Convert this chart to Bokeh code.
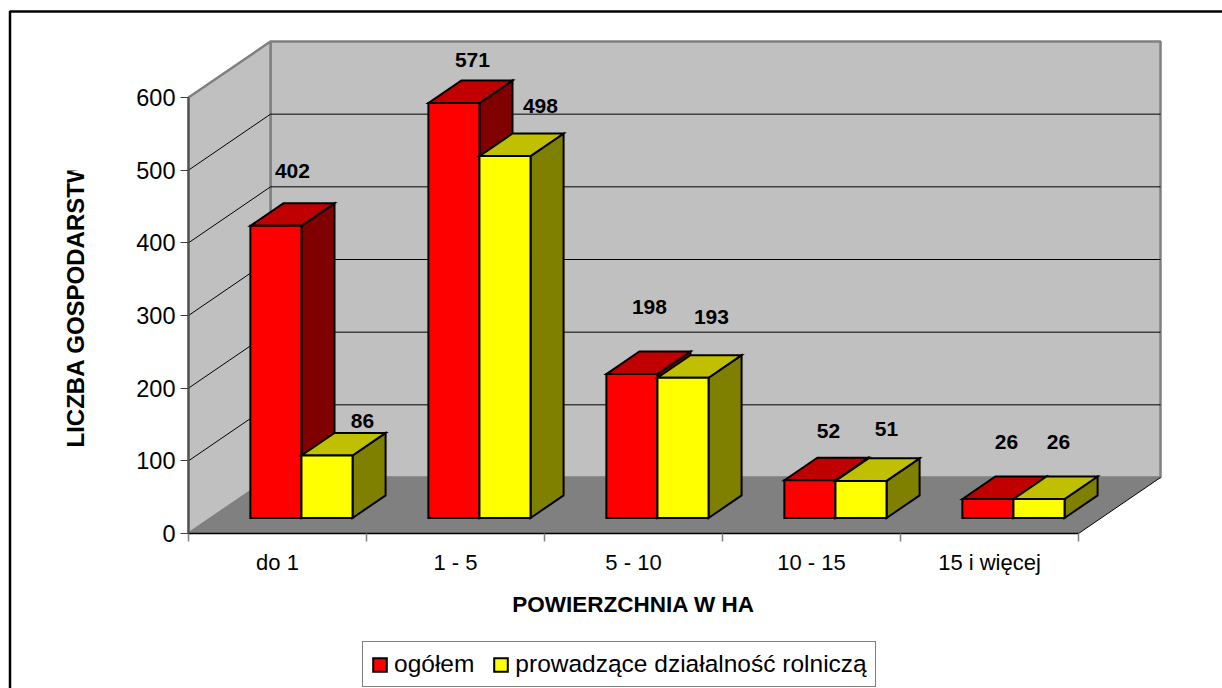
from math import pi
from bokeh.plotting import figure
from bokeh.models import (ColumnDataSource, FixedTicker, LinearAxis, Range1d, Legend, LegendItem)
from bokeh.embed import file_html
from bokeh.resources import INLINE

categories = ["do 1", "1 - 5", "5 - 10", "10 - 15", "15 i więcej"]
ogolem = [402, 571, 198, 52, 26]
rolnicze = [86, 498, 193, 51, 26]
value_ticks = [0, 100, 200, 300, 400, 500, 600]
series_names = ["ogółem", "prowadzące działalność rolniczą"]
x_title = "POWIERZCHNIA W HA"
y_title = "LICZBA GOSPODARSTW"

# label offsets (layout only), in pixels from the top of each bar
ogolem_off = [(-16.5, -32), (-14.5, -20), (-15.5, -45), (-14.5, -27), (-14.5, -35)]
rolnicze_off = [(2.4, -12.4), (2.4, -28), (-4.6, -38.6), (-7.6, -29.8), (-13.6, -35)]

FONT = "Liberation Sans"
W, H = 1222, 688
X0, Y0 = 188, 533                        # page pixel of category 0 / value 0
PX_CAT = 178.0
PX_VAL = 436.0 / 600
DX, DY = 82 / PX_CAT, 56 / PX_VAL        # oblique depth vector in data units
GAP, BW = 0.22, 0.287                    # offset and width of a bar, in categories
D0, D1 = 0.277, 0.68                     # bar's depth extent


def data_x(px):
    return (px - X0) / PX_CAT


def data_y(py):
    return (Y0 - py) / PX_VAL


n = len(categories)
p = figure(width=W, height=H, output_backend="svg", toolbar_location=None,
           x_range=Range1d(data_x(0), data_x(W)), y_range=Range1d(data_y(H), data_y(0)),
           x_axis_type=None, y_axis_type=None, min_border=0)
p.grid.visible = False
p.outline_line_color = None
p.background_fill_color = "white"
p.border_fill_color = "white"

# chart-area outline, cut by the page's edge on the right and below
p.line([data_x(W + 5), data_x(9.5), data_x(9.5)], [data_y(11), data_y(11), data_y(H + 5)],
       line_color="black", line_width=2.5)

vmax = value_ticks[-1]
GRAY = "#808080"
# walls and floor
p.patch([DX, n + DX, n + DX, DX], [DY, DY, DY + vmax, DY + vmax],
        fill_color="#C0C0C0", line_color=GRAY, line_width=2.5)
p.patch([0, DX, DX, 0], [0, DY, DY + vmax, vmax],
        fill_color="#C0C0C0", line_color=GRAY, line_width=2.5)
p.patch([0, n, n + DX, DX], [0, 0, DY, DY], fill_color=GRAY, line_color=None)
p.line([n, n + DX], [0, DY], line_color="black", line_width=1)
for v in value_ticks[1:-1]:
    p.line([0, DX, n + DX], [v, DY + v, DY + v], line_color="black", line_width=1)


def faces(values, slot):
    left = [i + GAP + slot * BW + DX * D0 for i in range(n)]
    right = [x + BW for x in left]
    base = DY * D0
    tops = [base + v for v in values]
    ddx, ddy = DX * (D1 - D0), DY * (D1 - D0)
    side = ([[r, r + ddx, r + ddx, r] for r in right],
            [[base, base + ddy, t + ddy, t] for t in tops])
    top = ([[l, l + ddx, r + ddx, r] for l, r in zip(left, right)],
           [[t, t + ddy, t + ddy, t] for t in tops])
    return left, right, base, tops, side, top


def bars(values, slot, front_c, top_c, side_c):
    left, right, base, tops, side, top = faces(values, slot)
    style = dict(line_color="black", line_width=2, line_join="miter")
    p.patches(side[0], side[1], fill_color=side_c, **style)
    p.patches(top[0], top[1], fill_color=top_c, **style)
    return p.quad(left=left, right=right, bottom=base, top=tops, fill_color=front_c, **style)


red = bars(ogolem, 0, "#FF0000", "#C00000", "#800000")
yellow = bars(rolnicze, 1, "#FFFF00", "#C0C000", "#808000")


def labels(values, slot, offsets):
    src = ColumnDataSource(dict(
        x=[i + GAP + (slot + 0.5) * BW + DX * D1 for i in range(n)],
        y=[DY * D1 + v for v in values],
        t=[str(v) for v in values],
        dx=[o[0] for o in offsets],
        dy=[o[1] for o in offsets]))
    p.text("x", "y", text="t", source=src, x_offset="dx", y_offset="dy",
           text_align="center", text_baseline="middle", text_color="black",
           text_font=dict(value=FONT), text_font_style="bold", text_font_size="21px")


labels(ogolem, 0, ogolem_off)
labels(rolnicze, 1, rolnicze_off)

# value axis
ya = LinearAxis(ticker=FixedTicker(ticks=value_ticks), bounds=(0, vmax), fixed_location=0)
ya.major_label_text_font = FONT
ya.major_label_text_font_size = "23.5px"
ya.major_label_text_color = "black"
ya.major_label_standoff = 5
ya.major_tick_out = 8
ya.major_tick_in = 0
ya.minor_tick_out = 0
ya.minor_tick_in = 0
ya.major_tick_line_color = "#404040"
ya.axis_line_color = "#505050"
ya.axis_line_width = 2
p.add_layout(ya, "left")

# category tick marks
xt = LinearAxis(ticker=FixedTicker(ticks=list(range(n + 1))), bounds=(0, n), fixed_location=0)
xt.major_label_overrides = {i: "" for i in range(n + 1)}
xt.major_label_text_font_size = "1px"
xt.major_label_standoff = 0
xt.major_tick_out = 8
xt.major_tick_in = 0
xt.major_tick_line_color = GRAY
xt.major_tick_line_width = 1.5
xt.minor_tick_out = 0
xt.minor_tick_in = 0
xt.axis_line_color = "black"
xt.axis_line_width = 1.5
p.add_layout(xt, "below")

# category names centred between the ticks
centres = [i + 0.5 for i in range(n)]
xa = LinearAxis(ticker=FixedTicker(ticks=centres), bounds=(0, n), fixed_location=0)
xa.major_label_overrides = dict(zip(centres, categories))
xa.major_label_text_font = FONT
xa.major_label_text_font_size = "22px"
xa.major_label_text_color = "black"
xa.major_label_standoff = 16
xa.major_tick_out = 0
xa.major_tick_in = 0
xa.minor_tick_out = 0
xa.minor_tick_in = 0
xa.axis_line_color = None
xa.axis_label = x_title
xa.axis_label_text_font = FONT
xa.axis_label_text_font_style = "bold"
xa.axis_label_text_font_size = "22.5px"
xa.axis_label_text_color = "black"
xa.axis_label_standoff = 14
p.add_layout(xa, "below")

# rotated value-axis title with a cover over its last letter, as in the source
p.text([data_x(75)], [data_y(447)], text=[y_title], angle=pi / 2, text_align="left",
       text_baseline="middle", text_font=dict(value=FONT), text_font_style="bold",
       text_font_size="24px", text_color="black")
p.quad(left=[data_x(55)], right=[data_x(100)], bottom=[data_y(170)], top=[data_y(120)],
       fill_color="white", line_color=None)

legend = Legend(items=[LegendItem(label=series_names[0], renderers=[red]),
                       LegendItem(label=series_names[1], renderers=[yellow])],
                orientation="horizontal", location=(362, H - 687), margin=0,
                padding=8, spacing=18, label_standoff=6, glyph_width=17, glyph_height=17,
                border_line_color="black", border_line_width=1, background_fill_alpha=1,
                label_text_font=FONT, label_text_font_size="24.5px", label_text_color="black")
p.add_layout(legend, "center")

open("out.html", "w").write(file_html(p, INLINE))
